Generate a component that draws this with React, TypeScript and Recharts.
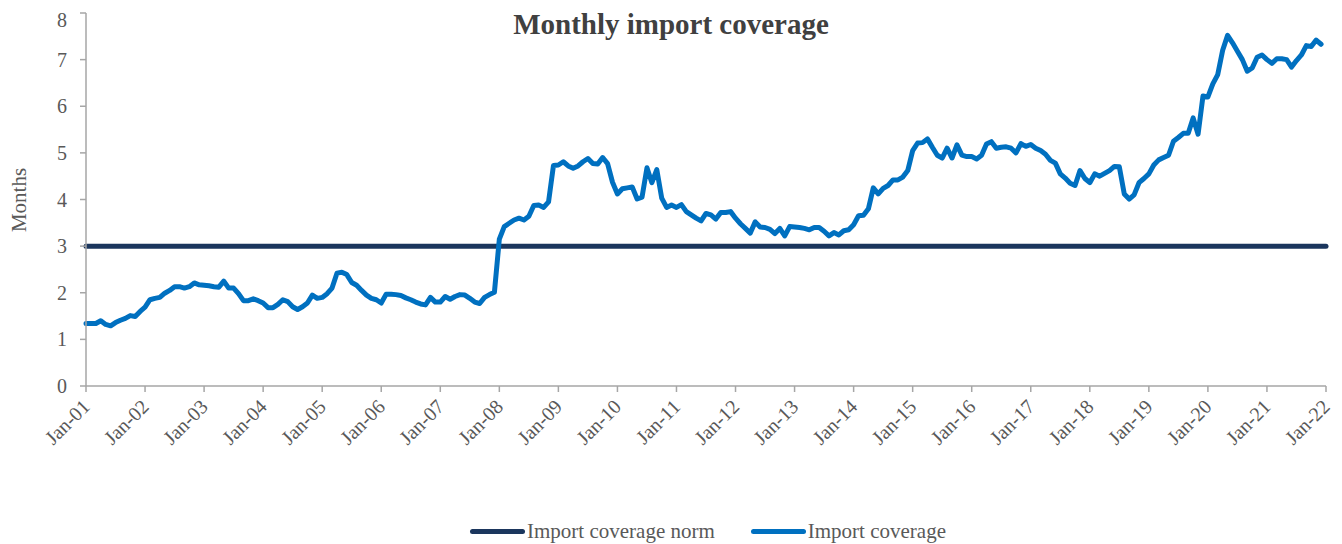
import { LineChart, Line, XAxis, YAxis } from "recharts";

const FONT = '"Liberation Serif", "DejaVu Serif", serif';
const TEXT = "#595959";
const AXIS = "#a6a6a6";

const monthNames = ["Jan", "Feb", "Mar", "Apr", "May", "Jun", "Jul", "Aug", "Sep", "Oct", "Nov", "Dec"];
const yearLabels = [
  "01", "02", "03", "04", "05", "06", "07", "08", "09", "10", "11",
  "12", "13", "14", "15", "16", "17", "18", "19", "20", "21", "22",
];
const yTicks = [0, 1, 2, 3, 4, 5, 6, 7, 8];

// import coverage in months, Jan-01 .. Jan-22 (last month not reported)
const importCoverage = [
  1.34, 1.34, 1.34, 1.40, 1.32, 1.29, 1.36, 1.41, 1.45, 1.51, 1.49, 1.60,
  1.69, 1.85, 1.88, 1.90, 1.99, 2.05, 2.13, 2.13, 2.10, 2.13, 2.21, 2.17,
  2.16, 2.15, 2.13, 2.12, 2.25, 2.10, 2.10, 1.98, 1.83, 1.83, 1.87, 1.83,
  1.78, 1.68, 1.68, 1.75, 1.85, 1.81, 1.70, 1.64, 1.70, 1.78, 1.95, 1.88,
  1.90, 1.98, 2.10, 2.42, 2.44, 2.39, 2.22, 2.16, 2.05, 1.95, 1.88, 1.85,
  1.78, 1.97, 1.97, 1.96, 1.94, 1.89, 1.85, 1.80, 1.76, 1.74, 1.90, 1.80,
  1.80, 1.92, 1.86, 1.92, 1.96, 1.95, 1.88, 1.80, 1.77, 1.90, 1.96, 2.01,
  3.15, 3.42, 3.49, 3.56, 3.60, 3.56, 3.64, 3.87, 3.88, 3.83, 3.95, 4.73,
  4.74, 4.81, 4.72, 4.67, 4.72, 4.81, 4.88, 4.77, 4.76, 4.90, 4.77, 4.37,
  4.12, 4.23, 4.25, 4.27, 4.01, 4.05, 4.68, 4.36, 4.64, 4.03, 3.83, 3.88,
  3.83, 3.89, 3.74, 3.67, 3.60, 3.54, 3.70, 3.67, 3.58, 3.72, 3.72, 3.74,
  3.60, 3.48, 3.38, 3.28, 3.52, 3.41, 3.40, 3.36, 3.27, 3.38, 3.22, 3.42,
  3.41, 3.40, 3.38, 3.35, 3.40, 3.40, 3.32, 3.22, 3.29, 3.24, 3.33, 3.35,
  3.46, 3.65, 3.66, 3.80, 4.25, 4.12, 4.24, 4.30, 4.42, 4.42, 4.48, 4.62,
  5.05, 5.21, 5.22, 5.30, 5.12, 4.95, 4.89, 5.10, 4.89, 5.17, 4.95, 4.92,
  4.92, 4.87, 4.95, 5.19, 5.24, 5.10, 5.12, 5.13, 5.10, 5.00, 5.20, 5.14,
  5.18, 5.10, 5.05, 4.97, 4.84, 4.78, 4.55, 4.46, 4.35, 4.30, 4.62, 4.45,
  4.36, 4.55, 4.50, 4.56, 4.62, 4.71, 4.70, 4.12, 4.01, 4.10, 4.36, 4.45,
  4.55, 4.74, 4.85, 4.90, 4.95, 5.25, 5.33, 5.42, 5.42, 5.75, 5.40, 6.22,
  6.20, 6.48, 6.68, 7.20, 7.52, 7.36, 7.18, 7.00, 6.75, 6.82, 7.05, 7.10,
  7.00, 6.92, 7.02, 7.02, 7.00, 6.84, 6.98, 7.10, 7.30, 7.28, 7.42, 7.33,
  null,
];

// the norm is a flat 3 months of imports
const importNorm = 3;

const categories: string[] = [];
yearLabels.forEach((yr) => monthNames.forEach((m) => categories.push(`${m}-${yr}`)));

const data = categories.slice(0, importCoverage.length).map((month, i) => ({
  month,
  norm: importNorm,
  coverage: importCoverage[i],
}));

const XTick = (props: any) => {
  const { x, y, payload } = props;
  const tx = x + 5;
  const ty = y + 14;
  return (
    <text
      x={tx}
      y={ty}
      transform={`rotate(-45, ${tx}, ${ty})`}
      textAnchor="end"
      fontSize={20}
      fill={TEXT}
      fontFamily={FONT}
    >
      {payload.value}
    </text>
  );
};

const LegendItem = ({ color, label }: { color: string; label: string }) => (
  <div style={{ display: "flex", alignItems: "center" }}>
    <div style={{ width: 55, height: 5, borderRadius: 3, background: color, marginRight: 2 }} />
    <span style={{ fontSize: 21, color: TEXT, fontFamily: FONT }}>{label}</span>
  </div>
);

const App = () => {
  return (
    <div style={{ position: "relative", width: 1326, height: 536, fontFamily: FONT }}>
      <LineChart width={1326} height={536} data={data} margin={{ top: 5, right: 8, left: 0, bottom: 0 }}>
        <XAxis
          dataKey="month"
          interval={11}
          height={158}
          tickSize={6}
          axisLine={{ stroke: AXIS, strokeWidth: 1.5 }}
          tickLine={{ stroke: AXIS, strokeWidth: 1.5 }}
          tick={(p: any) => <XTick {...p} />}
        />
        <YAxis
          width={78}
          domain={[0, 8]}
          ticks={yTicks}
          tickSize={6}
          tickMargin={13}
          axisLine={{ stroke: AXIS, strokeWidth: 1.5 }}
          tickLine={{ stroke: AXIS, strokeWidth: 1.5 }}
          tick={{ fontSize: 20, fill: TEXT, fontFamily: FONT }}
        />
        <Line
          type="linear"
          dataKey="norm"
          stroke="#1b365d"
          strokeWidth={5}
          strokeLinecap="round"
          dot={false}
          isAnimationActive={false}
        />
        <Line
          type="linear"
          dataKey="coverage"
          stroke="#0070c0"
          strokeWidth={5}
          strokeLinejoin="round"
          strokeLinecap="round"
          dot={false}
          isAnimationActive={false}
        />
      </LineChart>

      {/* title and axis name, drawn over the chart in page-aligned coordinates */}
      <svg
        width={1342}
        height={544}
        style={{ position: "absolute", left: -8, top: -8, pointerEvents: "none", overflow: "visible" }}
      >
        <text x={671} y={34} textAnchor="middle" fontSize={29} fontWeight="bold" fill="#404040" fontFamily={FONT}>
          Monthly import coverage
        </text>
        <text
          transform="translate(26, 200) rotate(-90)"
          textAnchor="middle"
          fontSize={21}
          fill={TEXT}
          fontFamily={FONT}
        >
          Months
        </text>
      </svg>

      <div
        style={{
          position: "absolute",
          left: 0,
          width: 1400,
          top: 509,
          height: 28,
          display: "flex",
          justifyContent: "center",
          alignItems: "center",
          gap: 36,
        }}
      >
        <LegendItem color="#1b365d" label="Import coverage norm" />
        <LegendItem color="#0070c0" label="Import coverage" />
      </div>
    </div>
  );
};

export default App;
